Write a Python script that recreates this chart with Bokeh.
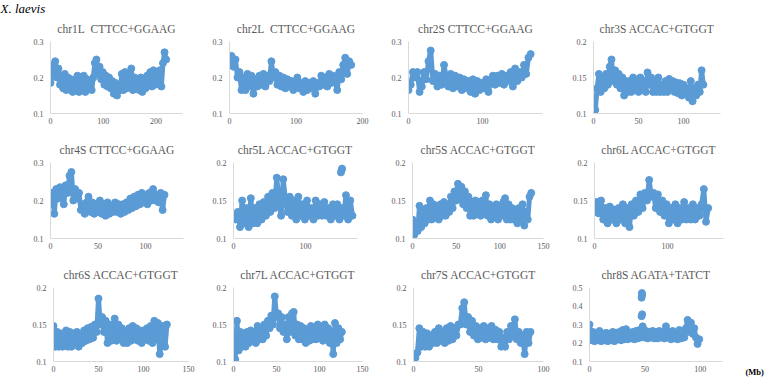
from bokeh.plotting import figure
from bokeh.layouts import row, column
from bokeh.models import FixedTicker, CustomJSTickFormatter, Range1d, Title, GlobalInlineStyleSheet
from bokeh.embed import file_html
from bokeh.resources import INLINE

# ---------------- data ----------------
TITLES = ["chr1L\u00a0 CTTCC+GGAAG", "chr2L\u00a0 CTTCC+GGAAG", "chr2S CTTCC+GGAAG", "chr3S ACCAC+GTGGT",
          "chr4S CTTCC+GGAAG", "chr5L ACCAC+GTGGT", "chr5S ACCAC+GTGGT", "chr6L ACCAC+GTGGT",
          "chr6S ACCAC+GTGGT", "chr7L ACCAC+GTGGT", "chr7S ACCAC+GTGGT", "chr8S AGATA+TATCT"]
SPECIES = "X. laevis"
UNIT = "(Mb)"

# window step (Mb) of each series
STEPS = [3, 3, 3, 2, 2, 3, 2, 3, 2, 2, 1.5, 1.5]

CHR1L = [0.185,0.21,0.235,0.245,0.2,0.225,0.18,0.205,0.17,0.21,0.165,0.2,0.17,0.195,0.16,0.19,0.175,0.205,
         0.16,0.2,0.165,0.205,0.16,0.195,0.17,0.19,0.165,0.2,0.24,0.25,0.21,0.23,0.195,0.215,0.18,0.205,
         0.175,0.2,0.17,0.19,0.155,0.185,0.15,0.175,0.165,0.21,0.165,0.215,0.17,0.205,0.175,0.225,0.165,
         0.2,0.17,0.195,0.165,0.2,0.16,0.195,0.17,0.205,0.18,0.215,0.175,0.22,0.18,0.215,0.185,0.22,0.175,
         0.24,0.27,0.25]
CHR2L = [0.235,0.26,0.23,0.25,0.2,0.215,0.165,0.2,0.165,0.21,0.175,0.205,0.155,0.195,0.175,0.205,0.18,
         0.21,0.175,0.205,0.19,0.245,0.2,0.215,0.18,0.205,0.175,0.2,0.17,0.195,0.175,0.19,0.165,0.185,0.2,
         0.17,0.185,0.16,0.19,0.165,0.185,0.17,0.19,0.155,0.185,0.175,0.205,0.18,0.2,0.175,0.21,0.185,0.205,
         0.19,0.165,0.215,0.195,0.235,0.255,0.21,0.245,0.235]
CHR2S = [0.165,0.18,0.215,0.2,0.215,0.16,0.175,0.215,0.195,0.245,0.275,0.19,0.21,0.175,0.205,0.18,0.235,
         0.2,0.175,0.21,0.17,0.205,0.175,0.2,0.165,0.195,0.17,0.19,0.16,0.195,0.155,0.19,0.165,0.185,0.17,
         0.195,0.16,0.19,0.205,0.18,0.205,0.185,0.21,0.18,0.205,0.19,0.215,0.175,0.225,0.19,0.215,0.2,
         0.235,0.21,0.255,0.265]
CHR3S = [0.11,0.105,0.135,0.155,0.13,0.15,0.135,0.155,0.14,0.165,0.175,0.145,0.16,0.14,0.155,0.135,0.15,
         0.125,0.145,0.13,0.145,0.13,0.15,0.135,0.145,0.13,0.15,0.135,0.145,0.13,0.157,0.14,0.15,0.13,0.145,
         0.13,0.15,0.13,0.14,0.13,0.145,0.13,0.148,0.135,0.145,0.13,0.143,0.128,0.142,0.125,0.14,0.128,
         0.135,0.122,0.145,0.117,0.135,0.125,0.14,0.13,0.16,0.14]
CHR4S = [0.19,0.22,0.165,0.23,0.205,0.235,0.215,0.19,0.24,0.22,0.265,0.275,0.2,0.23,0.205,0.22,0.175,0.19,
         0.165,0.195,0.21,0.17,0.195,0.165,0.19,0.17,0.2,0.165,0.19,0.16,0.195,0.165,0.185,0.17,0.195,0.17,
         0.19,0.165,0.19,0.17,0.195,0.175,0.205,0.18,0.21,0.185,0.215,0.19,0.22,0.195,0.215,0.19,0.22,0.2,
         0.23,0.2,0.215,0.195,0.22,0.175,0.215]
CHR5L = [0.13,0.125,0.135,0.115,0.15,0.12,0.14,0.115,0.153,0.12,0.14,0.12,0.145,0.125,0.148,0.13,0.155,
         0.135,0.16,0.14,0.18,0.15,0.13,0.178,0.15,0.135,0.155,0.13,0.15,0.125,0.155,0.13,0.145,0.125,0.15,
         0.13,0.14,0.125,0.15,0.13,0.145,0.13,0.148,0.13,0.14,0.125,0.145,0.13,0.145,0.125,0.14,0.13,0.157,
         0.125,0.15,0.13]
CHR5S = [0.125,0.105,0.12,0.11,0.143,0.115,0.135,0.12,0.14,0.125,0.15,0.125,0.145,0.13,0.14,0.125,0.145,
         0.13,0.148,0.13,0.145,0.135,0.155,0.14,0.162,0.15,0.172,0.152,0.168,0.145,0.162,0.14,0.155,0.13,
         0.148,0.13,0.15,0.135,0.148,0.13,0.15,0.135,0.157,0.13,0.145,0.125,0.14,0.13,0.145,0.125,0.14,0.13,
         0.148,0.153,0.125,0.145,0.125,0.14,0.125,0.138,0.12,0.14,0.125,0.145,0.117,0.135,0.125,0.155,0.16]
CHR6L = [0.135,0.148,0.133,0.15,0.125,0.14,0.12,0.142,0.125,0.138,0.12,0.14,0.125,0.145,0.12,0.14,0.115,
         0.145,0.13,0.15,0.135,0.158,0.14,0.16,0.15,0.177,0.155,0.16,0.14,0.158,0.135,0.15,0.13,0.145,0.12,
         0.14,0.125,0.145,0.12,0.14,0.125,0.148,0.125,0.14,0.125,0.145,0.125,0.14,0.13,0.145,0.165,0.122,0.14]
CHR6S = [0.148,0.12,0.14,0.12,0.138,0.12,0.135,0.142,0.12,0.14,0.12,0.138,0.125,0.14,0.12,0.135,0.125,
         0.142,0.128,0.145,0.13,0.147,0.132,0.15,0.14,0.185,0.15,0.16,0.14,0.155,0.125,0.15,0.128,0.145,
         0.158,0.128,0.15,0.13,0.145,0.125,0.14,0.125,0.145,0.128,0.148,0.13,0.145,0.128,0.142,0.125,0.142,
         0.13,0.145,0.128,0.148,0.125,0.155,0.13,0.152,0.11,0.125,0.148,0.12,0.15]
CHR7L = [0.12,0.103,0.155,0.115,0.14,0.12,0.138,0.12,0.14,0.125,0.142,0.128,0.14,0.125,0.148,0.13,0.145,
         0.13,0.15,0.135,0.155,0.145,0.162,0.15,0.188,0.16,0.165,0.145,0.16,0.14,0.15,0.13,0.16,0.14,0.165,
         0.167,0.135,0.15,0.13,0.148,0.13,0.145,0.125,0.14,0.128,0.148,0.13,0.145,0.13,0.15,0.132,0.145,
         0.128,0.15,0.13,0.145,0.125,0.14,0.11,0.152,0.125,0.145,0.13,0.14]
CHR7S = [0.11,0.105,0.112,0.145,0.12,0.14,0.12,0.138,0.12,0.135,0.125,0.14,0.125,0.145,0.128,0.14,0.125,
         0.145,0.128,0.148,0.13,0.145,0.135,0.15,0.15,0.172,0.18,0.15,0.16,0.14,0.155,0.135,0.148,0.13,
         0.145,0.132,0.148,0.13,0.145,0.132,0.148,0.13,0.143,0.13,0.14,0.12,0.132,0.12,0.14,0.13,0.148,
         0.135,0.157,0.13,0.14,0.125,0.135,0.11,0.14,0.125,0.14]
CHR8S = [0.3,0.215,0.26,0.21,0.25,0.215,0.265,0.21,0.25,0.215,0.255,0.21,0.25,0.215,0.26,0.21,0.255,0.22,
         0.26,0.215,0.27,0.22,0.275,0.22,0.255,0.225,0.26,0.22,0.265,0.225,0.27,0.23,0.29,0.23,0.265,0.225,
         0.26,0.23,0.265,0.225,0.26,0.225,0.265,0.23,0.26,0.225,0.29,0.23,0.26,0.22,0.265,0.225,0.255,0.22,
         0.27,0.225,0.26,0.23,0.28,0.325,0.26,0.31,0.25,0.28,0.23,0.195,0.22]

SERIES = [CHR1L, CHR2L, CHR2S, CHR3S, CHR4S, CHR5L, CHR5S, CHR6L, CHR6S, CHR7L, CHR7S, CHR8S]

# isolated points (outliers) per panel
OUT_X = {5: [149.0, 150.0, 150.5], 11: [47.0, 47.3, 47.5, 47.0, 47.5]}
OUT_Y = {5: [0.187, 0.19, 0.192], 11: [0.445, 0.47, 0.46, 0.345, 0.355]}

# axes
X_MAX = [250, 200, 181, 141, 140, 172, 150, 177, 150, 150, 100, 120]
X_TICKS = [[0, 100, 200], [0, 100, 200], [0, 100], [0, 50, 100], [0, 50, 100], [0, 100],
           [0, 50, 100, 150], [0, 100], [0, 50, 100, 150], [0, 50, 100, 150], [0, 50, 100], [0, 50, 100]]
Y_RANGE = [(0.1, 0.3), (0.1, 0.3), (0.1, 0.3), (0.1, 0.2), (0.1, 0.3), (0.1, 0.2),
           (0.1, 0.2), (0.1, 0.2), (0.1, 0.2), (0.1, 0.2), (0.1, 0.2), (0.1, 0.5)]
Y_TICKS = [[0.1, 0.2, 0.3], [0.1, 0.2, 0.3], [0.1, 0.2, 0.3], [0.1, 0.15, 0.2],
           [0.1, 0.2, 0.3], [0.1, 0.15, 0.2], [0.1, 0.15, 0.2], [0.1, 0.15, 0.2],
           [0.1, 0.15, 0.2], [0.1, 0.15, 0.2], [0.1, 0.15, 0.2], [0.1, 0.2, 0.3, 0.4, 0.5]]

# ---------------- layout / style ----------------
BLUE = "#5B9BD5"
GREY_TXT = "#595959"
AXIS_CLR = "#D9D9D9"
FONT = "Liberation Serif"

# per panel: figure width, left border, right border
GEOM = [(190, 50, 8), (190, 39, 18), (185, 28, 23), (200, 28, 45),
        (190, 50, 7), (190, 43, 23), (185, 32, 22), (200, 29, 42),
        (195, 53, 7), (185, 38, 18), (185, 33, 22), (178, 24, 21)]
ROW_H = [(130, 37, 17), (125, 32, 17), (125, 32, 17)]

fmt = CustomJSTickFormatter(code="return String(Math.round(tick*100)/100)")


def make_title(text, **kw):
    t = Title(text=text, align="center", text_font=FONT, text_font_size="11.5px",
              text_font_style="normal", text_color=GREY_TXT, standoff=14)
    for k, v in kw.items():
        setattr(t, k, v)
    return t


figs = []
for i in range(12):
    w, bl, br = GEOM[i]
    h, bt, bb = ROW_H[i // 4]
    p = figure(width=w, height=h, output_backend="svg", toolbar_location=None,
               min_border_left=bl, min_border_right=br, min_border_top=bt, min_border_bottom=bb,
               x_range=Range1d(0, X_MAX[i]), y_range=Range1d(*Y_RANGE[i]))
    p.title = None
    p.outline_line_color = None
    p.grid.visible = False
    p.background_fill_color = "white"
    p.border_fill_color = "white"
    p.add_layout(make_title(TITLES[i]), "above")

    for ax in (p.xaxis[0], p.yaxis[0]):
        ax.axis_line_color = AXIS_CLR
        ax.axis_line_width = 1
        ax.major_tick_out = 0
        ax.major_tick_in = 0
        ax.minor_tick_out = 0
        ax.minor_tick_in = 0
        ax.major_tick_line_color = None
        ax.minor_tick_line_color = None
        ax.major_label_text_font = FONT
        ax.major_label_text_font_size = "8px"
        ax.major_label_text_color = GREY_TXT
    p.xaxis[0].ticker = FixedTicker(ticks=X_TICKS[i])
    p.yaxis[0].ticker = FixedTicker(ticks=Y_TICKS[i])
    p.yaxis[0].formatter = fmt
    p.xaxis[0].major_label_standoff = 4
    p.yaxis[0].major_label_standoff = 7

    ys = SERIES[i]
    xs = [k * STEPS[i] for k in range(len(ys))]
    p.line(xs, ys, line_width=5, color=BLUE)
    p.scatter(xs, ys, size=7, color=BLUE)
    if i in OUT_X:
        p.scatter(OUT_X[i], OUT_Y[i], size=7, color=BLUE)
    figs.append(p)

# species name, stacked above the first panel's title
figs[0].add_layout(make_title(SPECIES, align="left", offset=-50, text_font_size="13px",
                              text_font_style="italic", text_color="black", standoff=-4), "above")

# unit label in a narrow strip to the right of the last panel
unit_fig = figure(width=22, height=125, output_backend="svg", toolbar_location=None,
                  x_axis_location=None, y_axis_location=None, min_border=0,
                  x_range=Range1d(0, 22), y_range=Range1d(0, 125))
unit_fig.title = None
unit_fig.outline_line_color = None
unit_fig.grid.visible = False
unit_fig.add_layout(Title(text=UNIT, align="left", offset=2, standoff=7, text_font=FONT,
                          text_font_size="8.5px", text_font_style="bold", text_color="black"), "below")

layout = column(row(*figs[0:4]), row(*figs[4:8]), row(*figs[8:12], unit_fig))
layout.stylesheets = [GlobalInlineStyleSheet(css="html, body { margin: 0 !important; padding: 0; overflow: hidden; }")]

open("out.html", "w").write(file_html(layout, INLINE))
